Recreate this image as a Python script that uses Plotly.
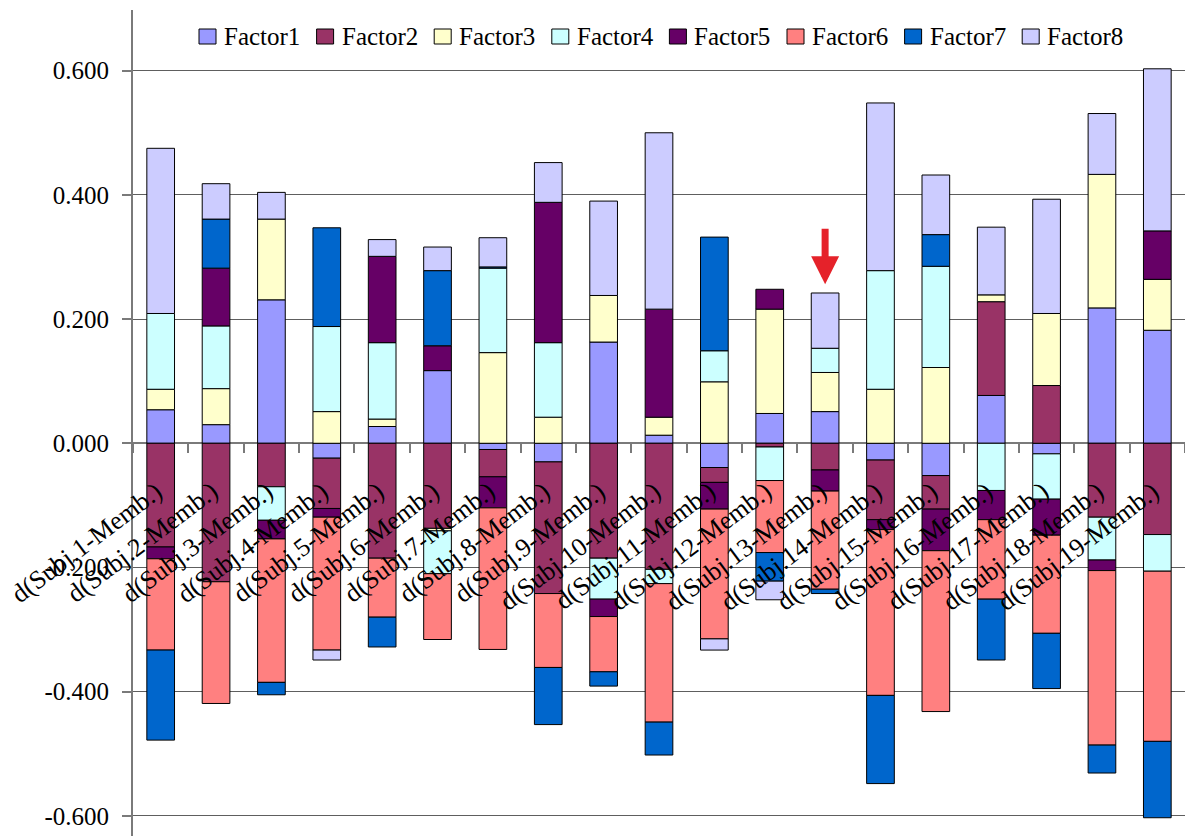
import plotly.graph_objects as go

# Category labels (one stacked column per subject)
subjects = [
    "d(Subj.1-Memb.)", "d(Subj.2-Memb.)", "d(Subj.3-Memb.)", "d(Subj.4-Memb.)",
    "d(Subj.5-Memb.)", "d(Subj.6-Memb.)", "d(Subj.7-Memb.)", "d(Subj.8-Memb.)",
    "d(Subj.9-Memb.)", "d(Subj.10-Memb.)", "d(Subj.11-Memb.)", "d(Subj.12-Memb.)",
    "d(Subj.13-Memb.)", "d(Subj.14-Memb.)", "d(Subj.15-Memb.)", "d(Subj.16-Memb.)",
    "d(Subj.17-Memb.)", "d(Subj.18-Memb.)", "d(Subj.19-Memb.)",
]

factor_names = ["Factor1", "Factor2", "Factor3", "Factor4",
                "Factor5", "Factor6", "Factor7", "Factor8"]

# Factor contributions per subject
factor1 = [0.054, 0.030, 0.231, -0.024, 0.027, 0.117, -0.010, -0.030, 0.163, 0.013,
           -0.039, 0.048, 0.051, -0.027, -0.052, 0.077, -0.017, 0.218, 0.182]
factor2 = [-0.167, -0.223, -0.070, -0.081, -0.185, -0.137, -0.044, -0.212, -0.185, -0.203,
           -0.024, -0.006, -0.043, -0.096, -0.054, 0.151, 0.093, -0.119, -0.147]
factor3 = [0.033, 0.058, 0.130, 0.051, 0.012, -0.004, 0.146, 0.042, 0.075, 0.029,
           0.099, 0.168, 0.063, 0.087, 0.122, 0.011, 0.116, 0.215, 0.082]
factor4 = [0.122, 0.101, -0.054, 0.137, 0.123, -0.069, 0.136, 0.120, -0.066, -0.023,
           0.050, -0.054, 0.039, 0.191, 0.163, -0.076, -0.073, -0.069, -0.059]
factor5 = [-0.019, 0.093, -0.030, -0.014, 0.139, 0.040, -0.050, 0.226, -0.028, 0.174,
           -0.043, 0.032, -0.034, -0.016, -0.067, -0.047, -0.058, -0.017, 0.078]
factor6 = [-0.147, -0.196, -0.231, -0.214, -0.095, -0.106, -0.228, -0.119, -0.089, -0.223,
           -0.209, -0.116, -0.158, -0.267, -0.259, -0.128, -0.158, -0.281, -0.274]
factor7 = [-0.145, 0.079, -0.020, 0.159, -0.048, 0.121, 0.002, -0.092, -0.023, -0.053,
           0.183, -0.046, -0.007, -0.142, 0.051, -0.098, -0.089, -0.045, -0.123]
factor8 = [0.266, 0.057, 0.043, -0.016, 0.027, 0.038, 0.047, 0.064, 0.152, 0.284,
           -0.018, -0.030, 0.089, 0.270, 0.096, 0.109, 0.184, 0.098, 0.261]

factor_values = [factor1, factor2, factor3, factor4, factor5, factor6, factor7, factor8]

# Value-axis ticks
tick_values = [-0.6, -0.4, -0.2, 0.0, 0.2, 0.4, 0.6]
tick_labels = ["-0.600", "-0.400", "-0.200", "0.000", "0.200", "0.400", "0.600"]

colors = ["#9999FF", "#993366", "#FFFFCC", "#CCFFFF",
          "#660066", "#FF8080", "#0066CC", "#CCCCFF"]

FONT = "Liberation Serif"
W, H = 1185, 836
ML, MT = 133, 10
Y_MIN, Y_MAX = -0.6324, 0.6977
PLOT_W, PLOT_H = W - ML, H - MT

fig = go.Figure()
for name, vals, col in zip(factor_names, factor_values, colors):
    fig.add_trace(go.Bar(
        x=subjects, y=vals, name=name, showlegend=False,
        marker=dict(color=col, line=dict(color="#000000", width=1)),
    ))

# category axis sits on the zero line
zero_pos = (0 - Y_MIN) / (Y_MAX - Y_MIN)

fig.update_layout(
    width=W, height=H,
    margin=dict(l=ML, r=0, t=MT, b=0, pad=0),
    paper_bgcolor="white", plot_bgcolor="white",
    barmode="relative", bargap=0.5,
    font=dict(family=FONT, color="black"),
    xaxis=dict(
        type="category", range=[-0.5, len(subjects) - 0.5],
        anchor="free", position=zero_pos,
        showline=True, linecolor="#7a7a7a", linewidth=2,
        ticks="outside", tickson="boundaries", ticklen=9,
        tickcolor="#7a7a7a", tickwidth=1.5,
        showticklabels=False, showgrid=False, zeroline=False,
        layer="below traces",
    ),
    yaxis=dict(
        range=[Y_MIN, Y_MAX],
        tickmode="array", tickvals=tick_values, ticktext=tick_labels,
        showgrid=True, gridcolor="#5e5e5e", gridwidth=1,
        showline=True, linecolor="#7a7a7a", linewidth=2,
        ticks="outside", ticklen=9, tickcolor="#7a7a7a", tickwidth=1.5,
        zeroline=False, ticklabelstandoff=8,
        tickfont=dict(family=FONT, size=25, color="black"),
    ),
)

# rotated category labels hanging below the zero line
for s in subjects:
    fig.add_annotation(
        x=s, y=0, xref="x", yref="y", text=s, showarrow=False,
        textangle=-37, xanchor="right", yanchor="top",
        xshift=10, yshift=-30,
        font=dict(family=FONT, size=26, color="black"),
    )

# legend row drawn across the top of the plot area
def px_to_paper_x(px):
    return (px - ML) / PLOT_W

def px_to_paper_y(py):
    return (H - py) / PLOT_H

LEG_X0, LEG_STEP, LEG_Y = 199, 117.6, 36.5
for i, (name, col) in enumerate(zip(factor_names, colors)):
    bx = LEG_X0 + i * LEG_STEP
    fig.add_shape(
        type="rect", xref="paper", yref="paper",
        x0=px_to_paper_x(bx), x1=px_to_paper_x(bx + 17),
        y0=px_to_paper_y(LEG_Y + 7.5), y1=px_to_paper_y(LEG_Y - 7.5),
        fillcolor=col, line=dict(color="#000000", width=1),
    )
    fig.add_annotation(
        x=px_to_paper_x(bx + 23), y=px_to_paper_y(LEG_Y),
        xref="paper", yref="paper", text=name, showarrow=False,
        xanchor="left", yanchor="middle",
        font=dict(family=FONT, size=25, color="black"),
    )

# red marker arrow above the 13th column
idx = 12
pos_top = sum(v[idx] for v in factor_values if v[idx] > 0)
fig.add_annotation(
    x=subjects[idx], y=pos_top + 0.014, xref="x", yref="y",
    ax=0, ay=-57, text="", showarrow=True,
    arrowhead=2, arrowsize=0.8, arrowwidth=7, arrowcolor="#E5222A",
)

fig.write_html("out.html")
